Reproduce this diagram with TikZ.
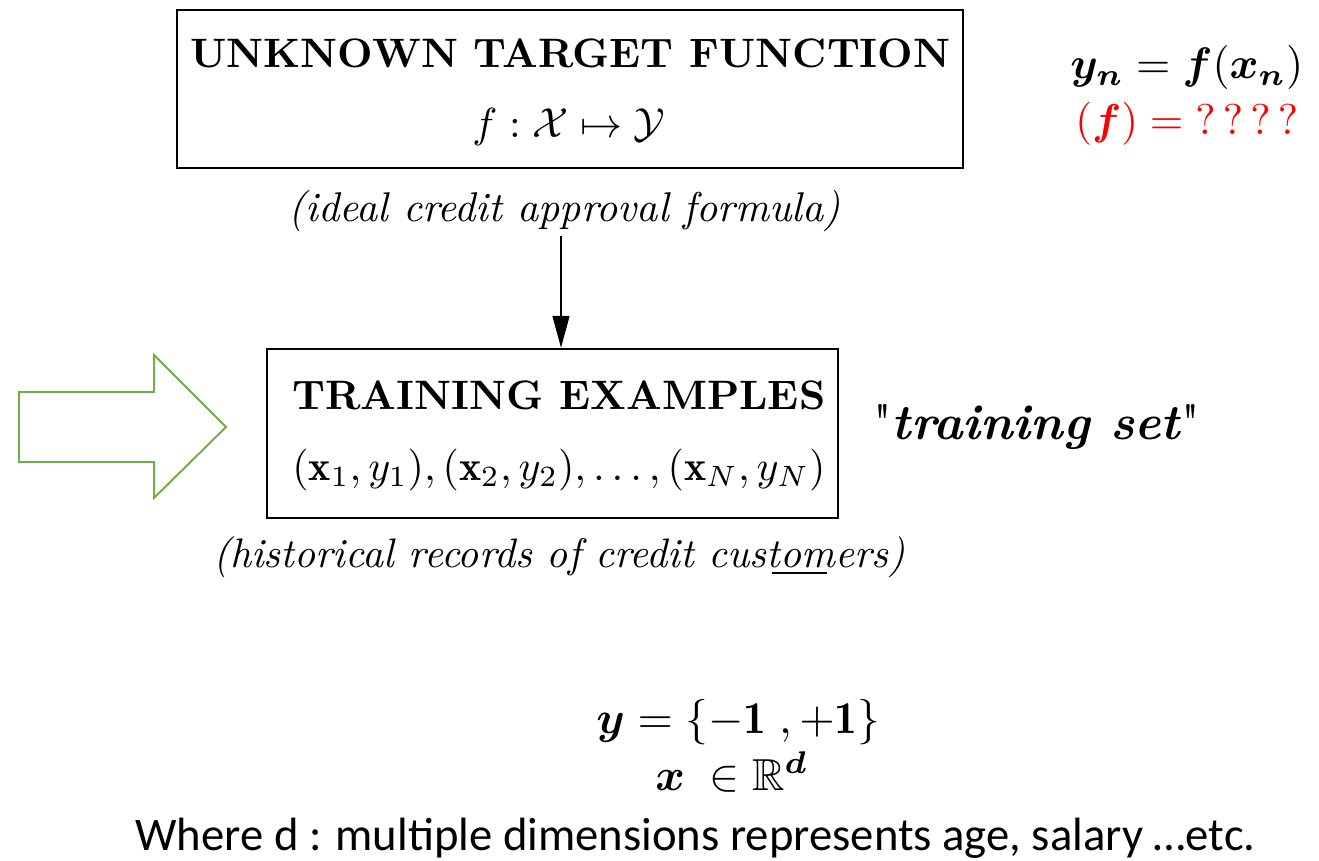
\documentclass[tikz,border=0pt]{standalone}
\usepackage{fontspec}
\usepackage{amsmath,amssymb,bm}
\usepackage{graphicx}
\usetikzlibrary{arrows.meta}
\newfontfamily\calibri{Carlito}
\newlength\pxunit \setlength\pxunit{0.02cm}
% scale a piece of text to a given width (in px units)
\newcommand\fitw[2]{\resizebox{#1\pxunit}{!}{#2}}
\definecolor{arrowgreen}{HTML}{70AD47}
\tikzset{
  lbl/.style={inner sep=0pt, anchor=base west},
  box/.style={draw, inner sep=0pt, line width=1.5pt},
}
\begin{document}
\begin{tikzpicture}[x=0.02cm, y=-0.02cm]
\useasboundingbox (0,0) rectangle (1319,861);

% upper box: the target function
\node[box, minimum width=786\pxunit, minimum height=158\pxunit] (target) at (570,89) {};
\node[lbl] (title) at (190,68) {\fitw{760}{\bfseries UNKNOWN TARGET FUNCTION}};
\node[lbl] (fmap) at (472,138) {\fitw{193}{$f:\mathcal{X}\mapsto\mathcal{Y}$}};
\node[lbl] (ideal) at (288,222) {\fitw{552}{\itshape (ideal credit approval formula)}};

% lower box: the training examples
\node[box, line width=1.4pt, minimum width=571\pxunit, minimum height=169\pxunit] (train) at (552.5,433.5) {};
\node[lbl] (trainhead) at (292,410) {\fitw{533}{\bfseries TRAINING EXAMPLES}};
\node[lbl] (pairs) at (292,480) {\fitw{533}{$(\mathbf{x}_1,y_1),(\mathbf{x}_2,y_2),\ldots,(\mathbf{x}_N,y_N)$}};
\node[lbl] (hist) at (213,567) {\fitw{692}{\itshape (historical records of credit customers)}};
\draw[line width=1.2pt] (772,573) -- (827,573);

% connector between the boxes
\coordinate (a0) at (561,236);
\draw[line width=0.9pt, -{Triangle[length=0.64cm,width=0.34cm]}] (a0) -- (a0 |- train.north);

% hollow green block arrow pointing at the training examples
\draw[arrowgreen, line width=1.1pt, line join=miter]
  (19,392) -- (154,392) -- (154,355) -- (226,427) -- (154,498) -- (154,462) -- (19,462) -- cycle;

% annotations
\node[lbl] (yneq) at (1070,79) {\fitw{233}{$\bm{y}_{\bm{n}}=\bm{f}(\bm{x}_{\bm{n}})$}};
\node[lbl, text=red] (fred) at (1075,135) {\fitw{223}{$(\bm{f})={?}\,{?}\,{?}\,{?}$}};
\node[lbl] (tset) at (873,440) {\fitw{327}{\textquotedbl\textbf{\textit{training set}}\textquotedbl}};

\node[lbl] (yset) at (596,733) {\fitw{284}{$\bm{y}=\{-\mathbf{1}\;,+\mathbf{1}\}$}};
\node[lbl] (xset) at (655,790) {\fitw{153}{$\bm{x}\;\in\mathbb{R}^{\bm{d}}$}};
\node[lbl] (note) at (135,850) {\fitw{1120}{\calibri Where d : multiple dimensions represents age, salary …etc.}};
\end{tikzpicture}
\end{document}
